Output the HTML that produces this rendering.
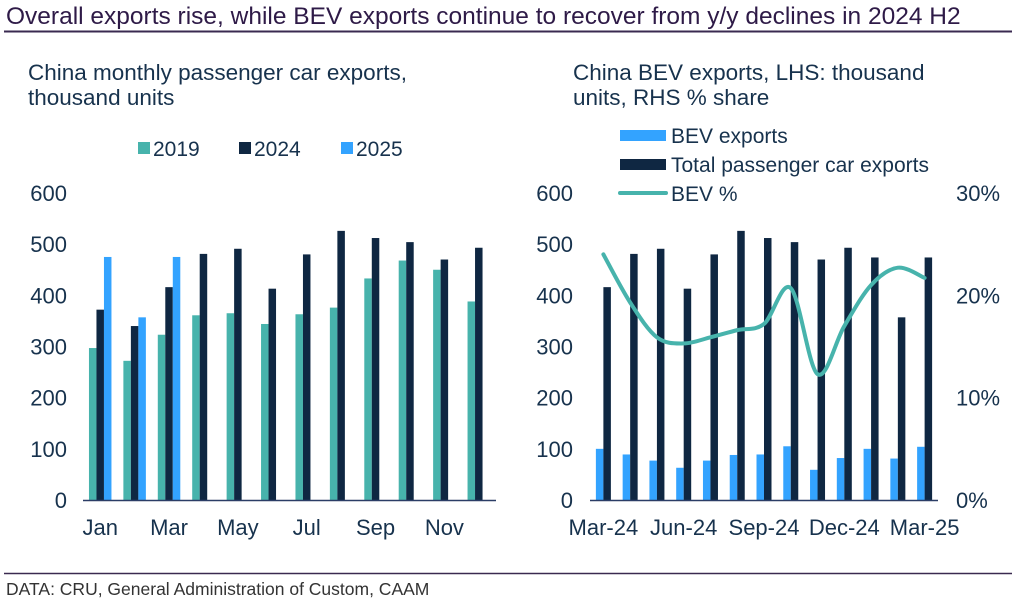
<!DOCTYPE html>
<html><head><meta charset="utf-8"><style>
html,body{margin:0;padding:0;background:#fff;}
svg{display:block;font-family:"Liberation Sans",Arial,sans-serif;}
</style></head><body>
<svg id="s" width="1024" height="612" viewBox="0 0 1024 612" xmlns="http://www.w3.org/2000/svg">
<text x="6" y="24" font-size="24.5" fill="#2e1a47">Overall exports rise, while BEV exports continue to recover from y/y declines in 2024 H2</text>
<line x1="4" y1="31.5" x2="1012" y2="31.5" stroke="#3a2a50" stroke-width="2"/>
<text x="28" y="80" font-size="22.5" fill="#17324d">China monthly passenger car exports,</text>
<text x="28" y="105" font-size="22.5" fill="#17324d">thousand units</text>
<text x="573" y="80" font-size="22.5" fill="#17324d">China BEV exports, LHS: thousand</text>
<text x="573" y="105" font-size="22.5" fill="#17324d">units, RHS % share</text>
<g>
<rect x="138" y="142" width="12" height="12" fill="#47b3ac"/>
<text x="153" y="156" font-size="21" fill="#17324d">2019</text>
<rect x="239" y="142" width="12" height="12" fill="#0f2742"/>
<text x="254" y="156" font-size="21" fill="#17324d">2024</text>
<rect x="341" y="142" width="12" height="12" fill="#33a3ff"/>
<text x="356" y="156" font-size="21" fill="#17324d">2025</text>
</g>
<g>
<rect x="620" y="130" width="46" height="11" fill="#33a3ff"/>
<text x="671" y="143" font-size="21" fill="#17324d">BEV exports</text>
<rect x="620" y="159" width="46" height="11" fill="#0f2742"/>
<text x="671" y="172" font-size="21" fill="#17324d">Total passenger car exports</text>
<line x1="620" y1="193" x2="666" y2="193" stroke="#47b3ac" stroke-width="4" stroke-linecap="round"/>
<text x="671" y="201" font-size="21" fill="#17324d">BEV %</text>
</g>
<g id="left"></g>
<g id="right"></g>
<line x1="4" y1="573.5" x2="1012" y2="573.5" stroke="#3a2a50" stroke-width="1.5"/>
<text x="6" y="595" font-size="17.5" fill="#333">DATA: CRU, General Administration of Custom, CAAM</text>
</svg>
<script>
const months=["Jan","Feb","Mar","Apr","May","Jun","Jul","Aug","Sep","Oct","Nov","Dec"];
const v2019=[297,272,323,361,365,344,363,376,433,468,450,388];
const v2024=[372,340,416,481,491,413,480,526,512,504,470,493];
const v2025=[475,357,475];
const yTicks=[0,100,200,300,400,500,600];
const rMonths=["Mar-24","Apr-24","May-24","Jun-24","Jul-24","Aug-24","Sep-24","Oct-24","Nov-24","Dec-24","Jan-25","Feb-25","Mar-25"];
const bev=[100,89,77,63,77,88,89,105,59,82,100,81,104];
const total=[416,481,491,413,480,526,512,504,470,493,474,357,474];
const bevPct=[24.0,19.3,15.9,15.3,15.9,16.6,17.2,20.7,12.3,17.0,21.0,22.7,21.7];
const pctTicks=[0,10,20,30];
const NS="http://www.w3.org/2000/svg";
function mk(p,t,a){const e=document.createElementNS(NS,t);for(const k in a)e.setAttribute(k,a[k]);p.appendChild(e);return e;}
const y0=500,yTop=193;
const yL=v=>y0-(v/600)*(y0-yTop);
const yR=p=>y0-(p/30)*(y0-yTop);
const FS=22;
// left
const L=document.getElementById('left');
const lx0=83,lx1=496,lw=(lx1-lx0)/12,bw=7.5;
const xL=i=>lx0+i*lw+lw/2;
yTicks.forEach(t=>{const e=mk(L,'text',{x:67,y:yL(t)+8,'font-size':FS,fill:'#17324d','text-anchor':'end'});e.textContent=t;

});
months.forEach((m,i)=>{
 const c=xL(i);
 const r1=mk(L,'rect',{x:c-bw*1.5,y:yL(v2019[i]),width:bw,height:y0-yL(v2019[i]),fill:'#47b3ac'});
 
 
 const r2=mk(L,'rect',{x:c-bw*0.5,y:yL(v2024[i]),width:bw,height:y0-yL(v2024[i]),fill:'#0f2742'});
 
 
 if(i<v2025.length){const r3=mk(L,'rect',{x:c+bw*0.5,y:yL(v2025[i]),width:bw,height:y0-yL(v2025[i]),fill:'#33a3ff'});
 
 }
 if(i%2==0){const e=mk(L,'text',{x:c,y:535,'font-size':FS,fill:'#17324d','text-anchor':'middle'});e.textContent=m;
 
 }
});
const la=mk(L,'line',{x1:lx0,y1:y0+0.5,x2:lx1,y2:y0+0.5,stroke:'#2b3d66','stroke-width':1.5});


// right
const R=document.getElementById('right');
const rx0=590,rx1=938,rw=(rx1-rx0)/13,rbw=7.5;
const xR=i=>rx0+i*rw+rw/2;
yTicks.forEach(t=>{const e=mk(R,'text',{x:573,y:yL(t)+8,'font-size':FS,fill:'#17324d','text-anchor':'end'});e.textContent=t;

});
pctTicks.forEach(t=>{const e=mk(R,'text',{x:956,y:yR(t)+8,'font-size':FS,fill:'#17324d'});e.textContent=t+'%';

});
rMonths.forEach((m,i)=>{
 const c=xR(i);
 const a=mk(R,'rect',{x:c-rbw,y:yL(bev[i]),width:rbw,height:y0-yL(bev[i]),fill:'#33a3ff'});
 
 
 const b=mk(R,'rect',{x:c,y:yL(total[i]),width:rbw,height:y0-yL(total[i]),fill:'#0f2742'});
 
 
 if(i%3==0){const e=mk(R,'text',{x:c,y:535,'font-size':FS,fill:'#17324d','text-anchor':'middle'});e.textContent=m;
 
 }
});
const ra=mk(R,'line',{x1:rx0,y1:y0+0.5,x2:rx1,y2:y0+0.5,stroke:'#2b3d66','stroke-width':1.5});


const pts=bevPct.map((p,i)=>[xR(i),yR(p)]);
let d='M'+pts[0][0]+','+pts[0][1];
for(let i=0;i<pts.length-1;i++){
 const p0=pts[Math.max(0,i-1)],p1=pts[i],p2=pts[i+1],p3=pts[Math.min(pts.length-1,i+2)];
 const c1=[p1[0]+(p2[0]-p0[0])/6,p1[1]+(p2[1]-p0[1])/6],c2=[p2[0]-(p3[0]-p1[0])/6,p2[1]-(p3[1]-p1[1])/6];
 d+=' C'+c1+' '+c2+' '+p2;
}
const ln=mk(R,'path',{d:d,fill:'none',stroke:'#47b3ac','stroke-width':4,'stroke-linecap':'round'});


</script>
</body></html>
